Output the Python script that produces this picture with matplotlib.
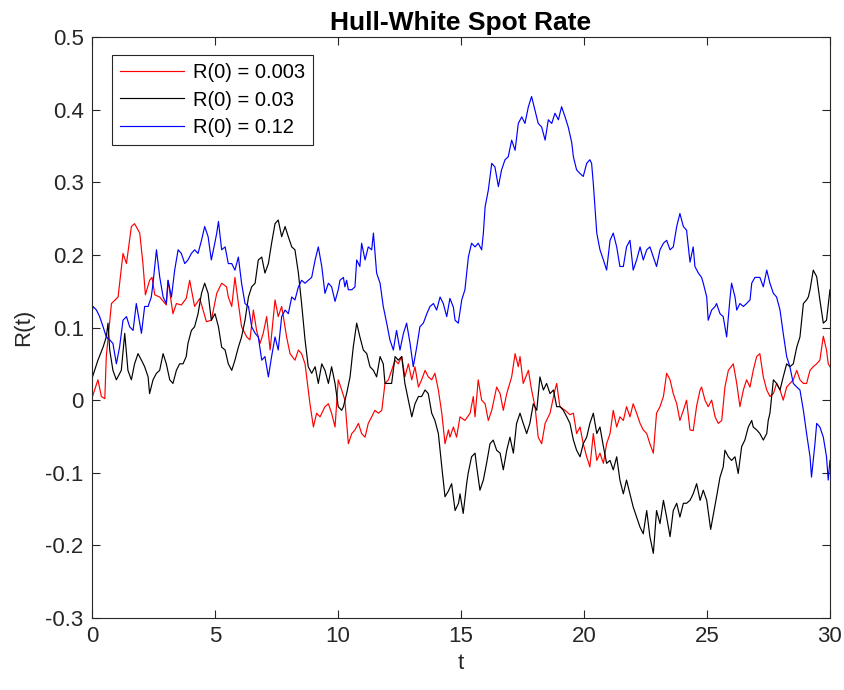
"""Hull-White spot rate paths, redrawn from the reference figure."""
import numpy as np
import matplotlib
matplotlib.use("Agg")
import matplotlib.pyplot as plt

plt.rcParams.update({"font.family": ["Liberation Sans", "DejaVu Sans"], "font.size": 16})

# --- data ---
labels = ["R(0) = 0.003", "R(0) = 0.03", "R(0) = 0.12"]
colors = ["#ff0000", "#000000", "#0000ff"]

t_red = [0.00, 0.24, 0.38, 0.52, 0.58, 0.79, 1.06, 1.26, 1.40, 1.60, 1.73, 1.94, 2.07, 2.17, 2.34, 2.44, 2.55,
         2.75, 3.02, 3.09, 3.29, 3.43, 3.63, 3.83, 3.97, 4.17, 4.38, 4.65, 4.85, 5.07, 5.27, 5.47, 5.54, 5.68,
         5.81, 5.95, 6.08, 6.29, 6.42, 6.56, 6.69, 6.83, 6.96, 7.10, 7.24, 7.44, 7.57, 7.71, 7.78, 7.91, 8.05,
         8.25, 8.39, 8.52, 8.66, 8.86, 9.00, 9.13, 9.27, 9.47, 9.61, 9.74, 9.88, 10.01, 10.15, 10.28, 10.42,
         10.56, 10.69, 10.83, 10.96, 11.10, 11.23, 11.37, 11.50, 11.64, 11.78, 11.91, 12.05, 12.18, 12.32,
         12.45, 12.59, 12.72, 12.86, 13.00, 13.13, 13.27, 13.40, 13.54, 13.67, 13.81, 13.94, 14.08, 14.22,
         14.35, 14.49, 14.55, 14.69, 14.82, 14.96, 15.16, 15.37, 15.50, 15.57, 15.70, 15.84, 15.98, 16.11,
         16.25, 16.45, 16.59, 16.72, 16.86, 17.06, 17.20, 17.33, 17.40, 17.53, 17.74, 17.87, 18.01, 18.14,
         18.28, 18.42, 18.62, 18.82, 18.89, 19.02, 19.23, 19.43, 19.57, 19.70, 19.84, 19.97, 20.11, 20.24,
         20.38, 20.52, 20.65, 20.79, 20.92, 21.06, 21.19, 21.33, 21.46, 21.60, 21.73, 21.87, 22.00, 22.14,
         22.28, 22.41, 22.55, 22.68, 22.82, 22.95, 23.09, 23.23, 23.36, 23.50, 23.63, 23.77, 23.90, 24.04,
         24.17, 24.31, 24.44, 24.58, 24.72, 24.78, 24.92, 25.05, 25.19, 25.33, 25.46, 25.60, 25.73, 25.87,
         26.07, 26.21, 26.34, 26.48, 26.61, 26.75, 26.88, 27.02, 27.15, 27.29, 27.43, 27.56, 27.70, 27.83,
         27.97, 28.10, 28.24, 28.37, 28.51, 28.65, 28.78, 28.92, 29.05, 29.19, 29.32, 29.46, 29.59, 29.73,
         29.86, 29.93, 30.00]
r_red = [0.003, 0.028, 0.005, 0.002, 0.060, 0.133, 0.142, 0.202, 0.188, 0.239, 0.243, 0.230, 0.188, 0.145, 0.165,
         0.169, 0.145, 0.142, 0.131, 0.165, 0.119, 0.133, 0.131, 0.140, 0.165, 0.129, 0.140, 0.108, 0.110, 0.147,
         0.161, 0.156, 0.142, 0.129, 0.169, 0.133, 0.101, 0.087, 0.083, 0.124, 0.096, 0.078, 0.092, 0.115, 0.069,
         0.138, 0.115, 0.129, 0.115, 0.087, 0.064, 0.055, 0.069, 0.064, 0.050, -0.005, -0.037, -0.018, -0.023,
         -0.009, -0.005, -0.018, -0.037, 0.028, 0.014, 0.000, -0.060, -0.046, -0.041, -0.032, -0.046, -0.051,
         -0.032, -0.023, -0.014, -0.018, -0.014, 0.023, 0.028, 0.041, 0.055, 0.050, 0.060, 0.032, 0.050, 0.028,
         0.046, 0.018, 0.028, 0.041, 0.032, 0.028, 0.037, 0.014, -0.018, -0.060, -0.041, -0.051, -0.037, -0.051,
         -0.023, -0.028, -0.018, 0.005, -0.023, 0.028, 0.000, -0.005, -0.028, -0.014, 0.018, 0.009, -0.014, 0.009,
         0.032, 0.064, 0.046, 0.060, 0.023, 0.041, 0.014, -0.009, -0.051, -0.060, -0.032, -0.018, 0.014, 0.023,
         -0.009, -0.014, -0.020, -0.018, -0.046, -0.037, -0.060, -0.078, -0.092, -0.046, -0.083, -0.073, -0.087,
         -0.060, -0.046, -0.014, -0.037, -0.023, -0.028, -0.009, -0.023, -0.005, -0.018, -0.032, -0.041, -0.046,
         -0.060, -0.073, -0.018, -0.009, 0.005, 0.037, 0.028, 0.009, -0.005, -0.028, -0.014, 0.000, -0.041,
         -0.042, -0.008, 0.014, 0.018, 0.000, -0.009, 0.000, -0.023, -0.032, -0.028, 0.018, 0.041, 0.050, 0.023,
         -0.009, 0.014, 0.028, 0.018, 0.041, 0.060, 0.064, 0.032, 0.014, 0.005, 0.009, 0.023, 0.014, 0.000, 0.018,
         0.023, 0.028, 0.041, 0.028, 0.023, 0.023, 0.041, 0.046, 0.050, 0.055, 0.088, 0.069, 0.050, 0.046]

t_black = [0.00, 0.24, 0.45, 0.58, 0.65, 0.72, 0.85, 0.99, 1.19, 1.33, 1.46, 1.60, 1.73, 1.87, 2.01, 2.14, 2.28,
           2.34, 2.48, 2.62, 2.75, 2.89, 3.02, 3.16, 3.29, 3.43, 3.56, 3.70, 3.83, 3.90, 4.04, 4.17, 4.31, 4.45,
           4.58, 4.72, 4.85, 5.00, 5.14, 5.27, 5.41, 5.54, 5.68, 5.81, 5.95, 6.08, 6.22, 6.36, 6.49, 6.63, 6.76,
           6.90, 7.03, 7.17, 7.30, 7.44, 7.57, 7.71, 7.85, 7.98, 8.12, 8.25, 8.39, 8.52, 8.66, 8.79, 8.93, 9.07,
           9.20, 9.34, 9.47, 9.61, 9.74, 9.88, 10.01, 10.15, 10.22, 10.35, 10.49, 10.62, 10.76, 10.89, 11.03,
           11.17, 11.30, 11.44, 11.57, 11.71, 11.84, 11.91, 12.05, 12.18, 12.32, 12.45, 12.59, 12.72, 12.86,
           13.00, 13.13, 13.27, 13.40, 13.54, 13.67, 13.81, 13.94, 14.08, 14.22, 14.35, 14.49, 14.62, 14.76,
           14.90, 14.96, 15.09, 15.23, 15.29, 15.43, 15.57, 15.64, 15.77, 15.91, 16.04, 16.18, 16.31, 16.45,
           16.59, 16.72, 16.86, 16.99, 17.13, 17.26, 17.40, 17.53, 17.67, 17.80, 17.94, 18.08, 18.21, 18.35,
           18.48, 18.62, 18.76, 18.89, 19.03, 19.16, 19.30, 19.43, 19.57, 19.70, 19.84, 19.97, 20.11, 20.24,
           20.38, 20.52, 20.65, 20.79, 20.92, 21.06, 21.19, 21.33, 21.46, 21.60, 21.73, 21.87, 22.00, 22.14,
           22.28, 22.41, 22.55, 22.68, 22.82, 22.95, 23.09, 23.23, 23.36, 23.50, 23.63, 23.77, 23.90, 24.04,
           24.17, 24.31, 24.44, 24.58, 24.72, 24.85, 24.99, 25.15, 25.30, 25.39, 25.53, 25.66, 25.73, 25.87,
           26.00, 26.14, 26.27, 26.41, 26.54, 26.68, 26.82, 26.88, 27.02, 27.15, 27.29, 27.43, 27.49, 27.56,
           27.70, 27.83, 27.97, 28.10, 28.24, 28.37, 28.51, 28.65, 28.78, 28.92, 29.05, 29.12, 29.19, 29.32,
           29.46, 29.59, 29.73, 29.86, 30.00]
r_black = [0.030, 0.055, 0.073, 0.087, 0.106, 0.069, 0.041, 0.028, 0.041, 0.092, 0.041, 0.028, 0.050, 0.064,
           0.055, 0.046, 0.032, 0.009, 0.028, 0.037, 0.041, 0.064, 0.050, 0.028, 0.023, 0.041, 0.050, 0.050,
           0.060, 0.078, 0.096, 0.101, 0.119, 0.147, 0.161, 0.147, 0.110, 0.119, 0.101, 0.073, 0.069, 0.050,
           0.041, 0.055, 0.073, 0.087, 0.110, 0.142, 0.156, 0.161, 0.193, 0.197, 0.175, 0.188, 0.216, 0.243,
           0.248, 0.225, 0.239, 0.225, 0.211, 0.207, 0.175, 0.133, 0.083, 0.046, 0.037, 0.046, 0.023, 0.050,
           0.041, 0.023, 0.046, 0.023, -0.009, -0.014, -0.009, 0.009, 0.032, 0.073, 0.106, 0.087, 0.069, 0.064,
           0.046, 0.041, 0.032, 0.060, 0.050, 0.023, 0.023, 0.023, 0.060, 0.055, 0.060, 0.023, 0.000, -0.023,
           -0.005, 0.005, 0.005, 0.014, 0.009, -0.018, -0.028, -0.046, -0.092, -0.133, -0.125, -0.115, -0.152,
           -0.142, -0.129, -0.156, -0.115, -0.101, -0.078, -0.073, -0.092, -0.124, -0.110, -0.087, -0.060,
           -0.055, -0.069, -0.073, -0.096, -0.069, -0.051, -0.073, -0.032, -0.018, -0.032, -0.046, -0.032,
           -0.005, -0.014, 0.032, 0.014, 0.023, 0.009, 0.014, -0.009, -0.009, -0.014, -0.023, -0.032, -0.055,
           -0.069, -0.078, -0.060, -0.051, -0.032, -0.018, -0.046, -0.037, -0.064, -0.087, -0.083, -0.096,
           -0.078, -0.110, -0.129, -0.110, -0.129, -0.147, -0.161, -0.175, -0.184, -0.152, -0.188, -0.211,
           -0.152, -0.170, -0.138, -0.161, -0.188, -0.152, -0.142, -0.161, -0.142, -0.142, -0.138, -0.129,
           -0.115, -0.138, -0.124, -0.138, -0.178, -0.150, -0.133, -0.106, -0.092, -0.069, -0.078, -0.083,
           -0.078, -0.101, -0.064, -0.055, -0.037, -0.028, -0.037, -0.041, -0.046, -0.055, -0.046, -0.028,
           -0.018, 0.028, 0.023, 0.014, 0.032, 0.050, 0.046, 0.050, 0.073, 0.087, 0.133, 0.138, 0.142, 0.152,
           0.179, 0.170, 0.138, 0.106, 0.110, 0.152]

t_blue = [0.00, 0.04, 0.18, 0.31, 0.45, 0.58, 0.72, 0.85, 0.99, 1.12, 1.26, 1.40, 1.53, 1.67, 1.80, 1.94, 2.01,
          2.14, 2.28, 2.41, 2.48, 2.62, 2.75, 2.89, 3.02, 3.09, 3.23, 3.36, 3.50, 3.63, 3.77, 3.90, 4.04, 4.17,
          4.31, 4.45, 4.58, 4.72, 4.85, 4.99, 5.07, 5.14, 5.27, 5.41, 5.54, 5.68, 5.81, 5.95, 6.08, 6.22, 6.36,
          6.49, 6.63, 6.76, 6.90, 7.03, 7.17, 7.30, 7.44, 7.57, 7.71, 7.85, 7.98, 8.12, 8.25, 8.39, 8.52, 8.66,
          8.79, 8.93, 9.07, 9.20, 9.34, 9.47, 9.61, 9.74, 9.88, 10.01, 10.08, 10.22, 10.28, 10.35, 10.42, 10.56,
          10.69, 10.76, 10.89, 10.96, 11.10, 11.23, 11.37, 11.44, 11.57, 11.71, 11.84, 11.98, 12.11, 12.25,
          12.38, 12.52, 12.66, 12.79, 12.93, 13.06, 13.20, 13.33, 13.47, 13.61, 13.74, 13.88, 14.01, 14.15,
          14.28, 14.42, 14.55, 14.69, 14.76, 14.89, 15.03, 15.16, 15.30, 15.43, 15.57, 15.70, 15.84, 15.91,
          15.98, 16.11, 16.25, 16.38, 16.52, 16.65, 16.79, 16.92, 17.06, 17.20, 17.33, 17.47, 17.60, 17.74,
          17.87, 18.01, 18.14, 18.28, 18.42, 18.55, 18.69, 18.82, 18.96, 19.09, 19.23, 19.36, 19.50, 19.57,
          19.70, 19.84, 19.97, 20.11, 20.24, 20.31, 20.38, 20.52, 20.65, 20.79, 20.92, 21.06, 21.19, 21.33,
          21.46, 21.60, 21.73, 21.87, 22.00, 22.14, 22.28, 22.41, 22.55, 22.68, 22.82, 22.95, 23.09, 23.23,
          23.36, 23.50, 23.63, 23.77, 23.90, 24.04, 24.17, 24.31, 24.44, 24.51, 24.65, 24.78, 24.85, 24.99,
          25.05, 25.19, 25.33, 25.39, 25.53, 25.66, 25.80, 25.93, 26.00, 26.14, 26.21, 26.34, 26.48, 26.61,
          26.75, 26.82, 26.95, 27.15, 27.29, 27.43, 27.56, 27.70, 27.83, 27.97, 28.10, 28.24, 28.37, 28.51,
          28.65, 28.78, 28.92, 29.05, 29.19, 29.25, 29.39, 29.46, 29.59, 29.73, 29.86, 29.93, 30.00]
r_blue = [0.120, 0.129, 0.124, 0.115, 0.101, 0.087, 0.083, 0.078, 0.050, 0.073, 0.110, 0.115, 0.101, 0.096, 0.133,
          0.106, 0.092, 0.129, 0.129, 0.142, 0.161, 0.207, 0.170, 0.142, 0.133, 0.165, 0.142, 0.179, 0.207, 0.202,
          0.188, 0.193, 0.202, 0.207, 0.202, 0.220, 0.239, 0.225, 0.193, 0.216, 0.230, 0.246, 0.207, 0.211, 0.188,
          0.188, 0.179, 0.197, 0.161, 0.133, 0.129, 0.101, 0.092, 0.087, 0.055, 0.060, 0.032, 0.060, 0.087, 0.069,
          0.115, 0.124, 0.119, 0.142, 0.138, 0.156, 0.165, 0.161, 0.165, 0.169, 0.193, 0.211, 0.184, 0.147, 0.161,
          0.156, 0.136, 0.152, 0.165, 0.169, 0.156, 0.165, 0.152, 0.152, 0.156, 0.193, 0.184, 0.216, 0.193, 0.211,
          0.207, 0.230, 0.175, 0.161, 0.129, 0.106, 0.083, 0.069, 0.096, 0.069, 0.092, 0.106, 0.078, 0.046, 0.073,
          0.101, 0.106, 0.119, 0.129, 0.133, 0.124, 0.142, 0.133, 0.115, 0.140, 0.128, 0.110, 0.106, 0.138, 0.152,
          0.197, 0.216, 0.211, 0.216, 0.207, 0.230, 0.266, 0.289, 0.326, 0.321, 0.294, 0.317, 0.331, 0.335, 0.358,
          0.344, 0.381, 0.390, 0.381, 0.404, 0.418, 0.399, 0.381, 0.376, 0.358, 0.386, 0.381, 0.395, 0.386, 0.404,
          0.390, 0.376, 0.355, 0.335, 0.317, 0.312, 0.308, 0.326, 0.331, 0.326, 0.298, 0.230, 0.207, 0.193, 0.179,
          0.220, 0.230, 0.211, 0.184, 0.184, 0.211, 0.220, 0.179, 0.193, 0.211, 0.193, 0.207, 0.211, 0.197, 0.184,
          0.207, 0.216, 0.220, 0.207, 0.211, 0.239, 0.257, 0.239, 0.234, 0.190, 0.211, 0.184, 0.175, 0.169, 0.161,
          0.142, 0.110, 0.124, 0.129, 0.133, 0.119, 0.115, 0.087, 0.138, 0.161, 0.142, 0.124, 0.133, 0.129, 0.133,
          0.138, 0.161, 0.169, 0.169, 0.156, 0.179, 0.161, 0.147, 0.142, 0.124, 0.092, 0.060, 0.046, 0.023, 0.018,
          0.014, -0.014, -0.046, -0.078, -0.106, -0.060, -0.032, -0.037, -0.051, -0.078, -0.110, -0.083]

x_ticks = [0, 5, 10, 15, 20, 25, 30]
y_ticks = [-0.3, -0.2, -0.1, 0, 0.1, 0.2, 0.3, 0.4, 0.5]

fig = plt.figure(figsize=(8.45, 6.9), dpi=100)
ax = fig.add_axes([0.1089, 0.1043, 0.8733, 0.8421])

for t, r, c, lab in zip([t_red, t_black, t_blue], [r_red, r_black, r_blue], colors, labels):
    ax.plot(t, r, color=c, lw=0.85, label=lab)

ax.set_xlim(0, 30)
ax.set_ylim(-0.3, 0.5)
ax.set_xticks(x_ticks)
ax.set_yticks(y_ticks)
ax.set_yticklabels([f"{v:g}" for v in y_ticks])
ax.tick_params(direction="in", top=True, right=True, length=6, width=0.8, labelsize=16,
               colors="#262626", pad=6)
for s in ax.spines.values():
    s.set_color("#262626")
    s.set_linewidth(0.8)

ax.set_xlabel("t", fontsize=16, color="#262626", labelpad=4)
ax.set_ylabel("R(t)", fontsize=16, color="#262626", labelpad=8)
ax.set_title("Hull-White Spot Rate", fontsize=19, fontweight="bold", pad=5)

leg = ax.legend(loc="upper left", bbox_to_anchor=(0.027, 0.969), borderaxespad=0, fontsize=14.5,
                handlelength=3.2, handletextpad=0.4, labelspacing=0.42, borderpad=0.4,
                fancybox=False, framealpha=1, edgecolor="#262626")
leg.get_frame().set_linewidth(0.8)

fig.savefig("out.png", dpi=100)
